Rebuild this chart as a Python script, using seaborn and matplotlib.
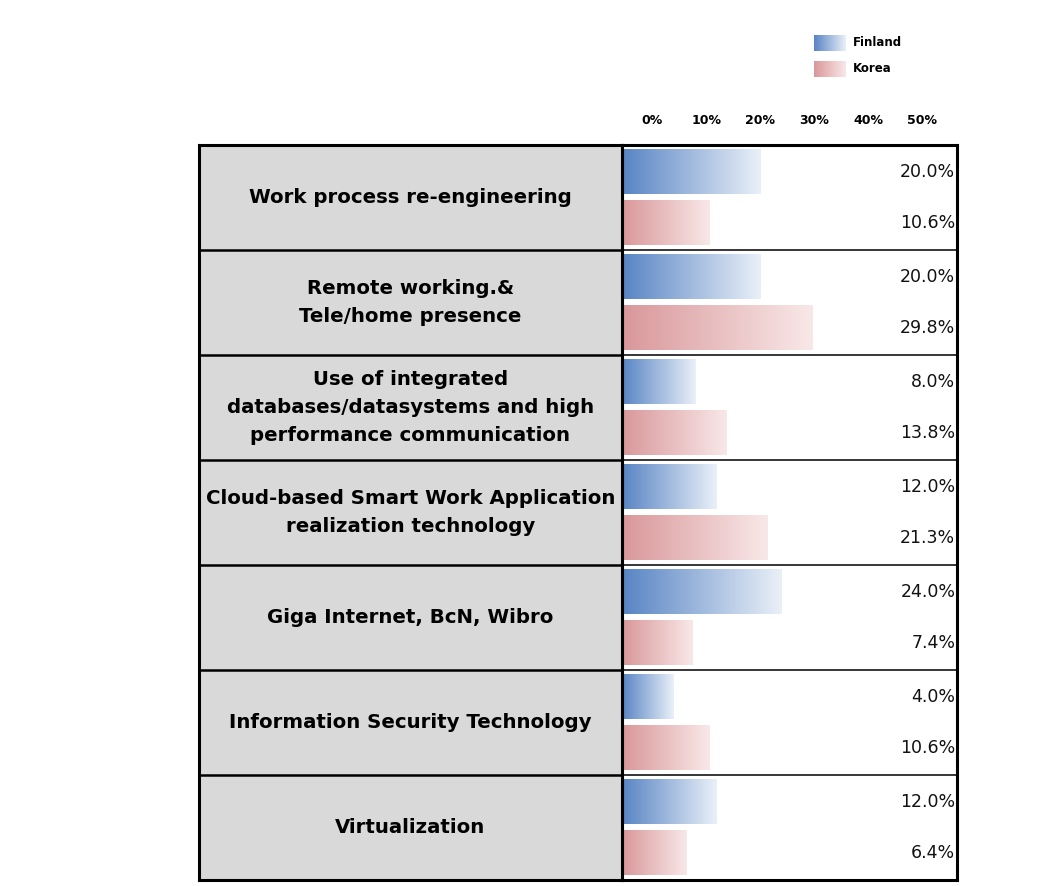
import numpy as np
import pandas as pd
import matplotlib
matplotlib.use("Agg")
import matplotlib.pyplot as plt
from matplotlib.colors import LinearSegmentedColormap, to_hex
import seaborn as sns

# data
categories = [
    "Work process re-engineering",
    "Remote working.&\nTele/home presence",
    "Use of integrated\ndatabases/datasystems and high\nperformance communication",
    "Cloud-based Smart Work Application\nrealization technology",
    "Giga Internet, BcN, Wibro",
    "Information Security Technology",
    "Virtualization",
]
countries = ["Finland", "Korea"]
finland = [20.0, 20.0, 8.0, 12.0, 24.0, 4.0, 12.0]
korea = [10.6, 29.8, 13.8, 21.3, 7.4, 10.6, 6.4]
ticks = [0, 10, 20, 30, 40, 50]

gradients = {"Finland": ("#5884c4", "#eaf0f8"), "Korea": ("#d9979a", "#f9e8e8")}
cmaps = {c: LinearSegmentedColormap.from_list(c, gradients[c]) for c in countries}

df = pd.DataFrame({
    "category": categories * 2,
    "country": ["Finland"] * len(finland) + ["Korea"] * len(korea),
    "value": finland + korea,
})

sns.set_theme(style="white")
plt.rcParams["font.family"] = ["DejaVu Sans"]
plt.rcParams["text.color"] = "black"
plt.rcParams["xtick.color"] = "black"

W, H = 1053, 886
fig = plt.figure(figsize=(W / 100, H / 100), dpi=100)


def px_rect(x0, y0, x1, y1):
    return [x0 / W, 1 - y1 / H, (x1 - x0) / W, (y1 - y0) / H]


ax = fig.add_axes(px_rect(622, 145, 957, 880))
lab = fig.add_axes(px_rect(199, 145, 622, 880), sharey=ax)

sns.barplot(data=df, y="category", x="value", hue="country", order=categories,
            hue_order=countries, orient="h", width=0.96, gap=0.12, saturation=1,
            palette={c: gradients[c][0] for c in countries},
            legend=False, ax=ax)

xmin, xmax = -5.6, 56.5
ax.set_xlim(xmin, xmax)
ylim = ax.get_ylim()

# gradient fill for each bar, running from the panel edge
grad = np.linspace(0, 1, 256).reshape(1, -1)
color_to_country = {to_hex(gradients[c][0]): c for c in countries}
for p in list(ax.patches):
    c = color_to_country.get(to_hex(p.get_facecolor()))
    if c is None:
        continue
    y0, h = p.get_y(), p.get_height()
    x1 = p.get_x() + p.get_width()
    ax.imshow(grad, cmap=cmaps[c], extent=[xmin, x1, y0 + h, y0],
              aspect="auto", zorder=2, interpolation="bilinear")
    p.set_visible(False)
    ax.text(0.995, y0 + h / 2, f"{x1:.1f}%", transform=ax.get_yaxis_transform(),
            ha="right", va="center", fontsize=12.5, color="#111111", zorder=3)

ax.set_xlim(xmin, xmax)
ax.set_ylim(ylim)

# top axis ticks
ax.xaxis.tick_top()
ax.set_xticks(ticks)
ax.set_xticklabels([f"{t}%" for t in ticks], fontsize=9, fontweight="bold")
ax.tick_params(axis="x", length=0, pad=13)
ax.tick_params(axis="y", left=False, labelleft=False)
ax.set_xlabel("")
ax.set_ylabel("")

for i in range(len(categories) - 1):
    ax.axhline(i + 0.5, color="black", lw=1.1, zorder=4)
    lab.axhline(i + 0.5, color="black", lw=1.8, zorder=4)

for s in ax.spines.values():
    s.set_color("black")
    s.set_linewidth(2.2)

# label column
lab.set_facecolor("#d9d9d9")
lab.set_xlim(0, 1)
lab.set_xticks([])
lab.tick_params(axis="y", left=False, labelleft=False)
for s in lab.spines.values():
    s.set_color("black")
    s.set_linewidth(2.2)
for i, cat in enumerate(categories):
    lab.text(0.5, i, cat, ha="center", va="center", fontsize=14.2,
             fontweight="bold", linespacing=1.6)

# legend
leg = fig.add_axes(px_rect(812, 33, 912, 80))
leg.set_xlim(0, 100)
leg.set_ylim(47, 0)
leg.axis("off")
for i, c in enumerate(countries):
    y0 = 2 + i * 26
    leg.imshow(grad, cmap=cmaps[c], extent=[2, 34, y0 + 16, y0], aspect="auto")
    leg.text(41, y0 + 8, c, ha="left", va="center", fontsize=8.5, fontweight="bold")
leg.set_xlim(0, 100)
leg.set_ylim(47, 0)

plt.savefig("out.png", dpi=100)
plt.close()
